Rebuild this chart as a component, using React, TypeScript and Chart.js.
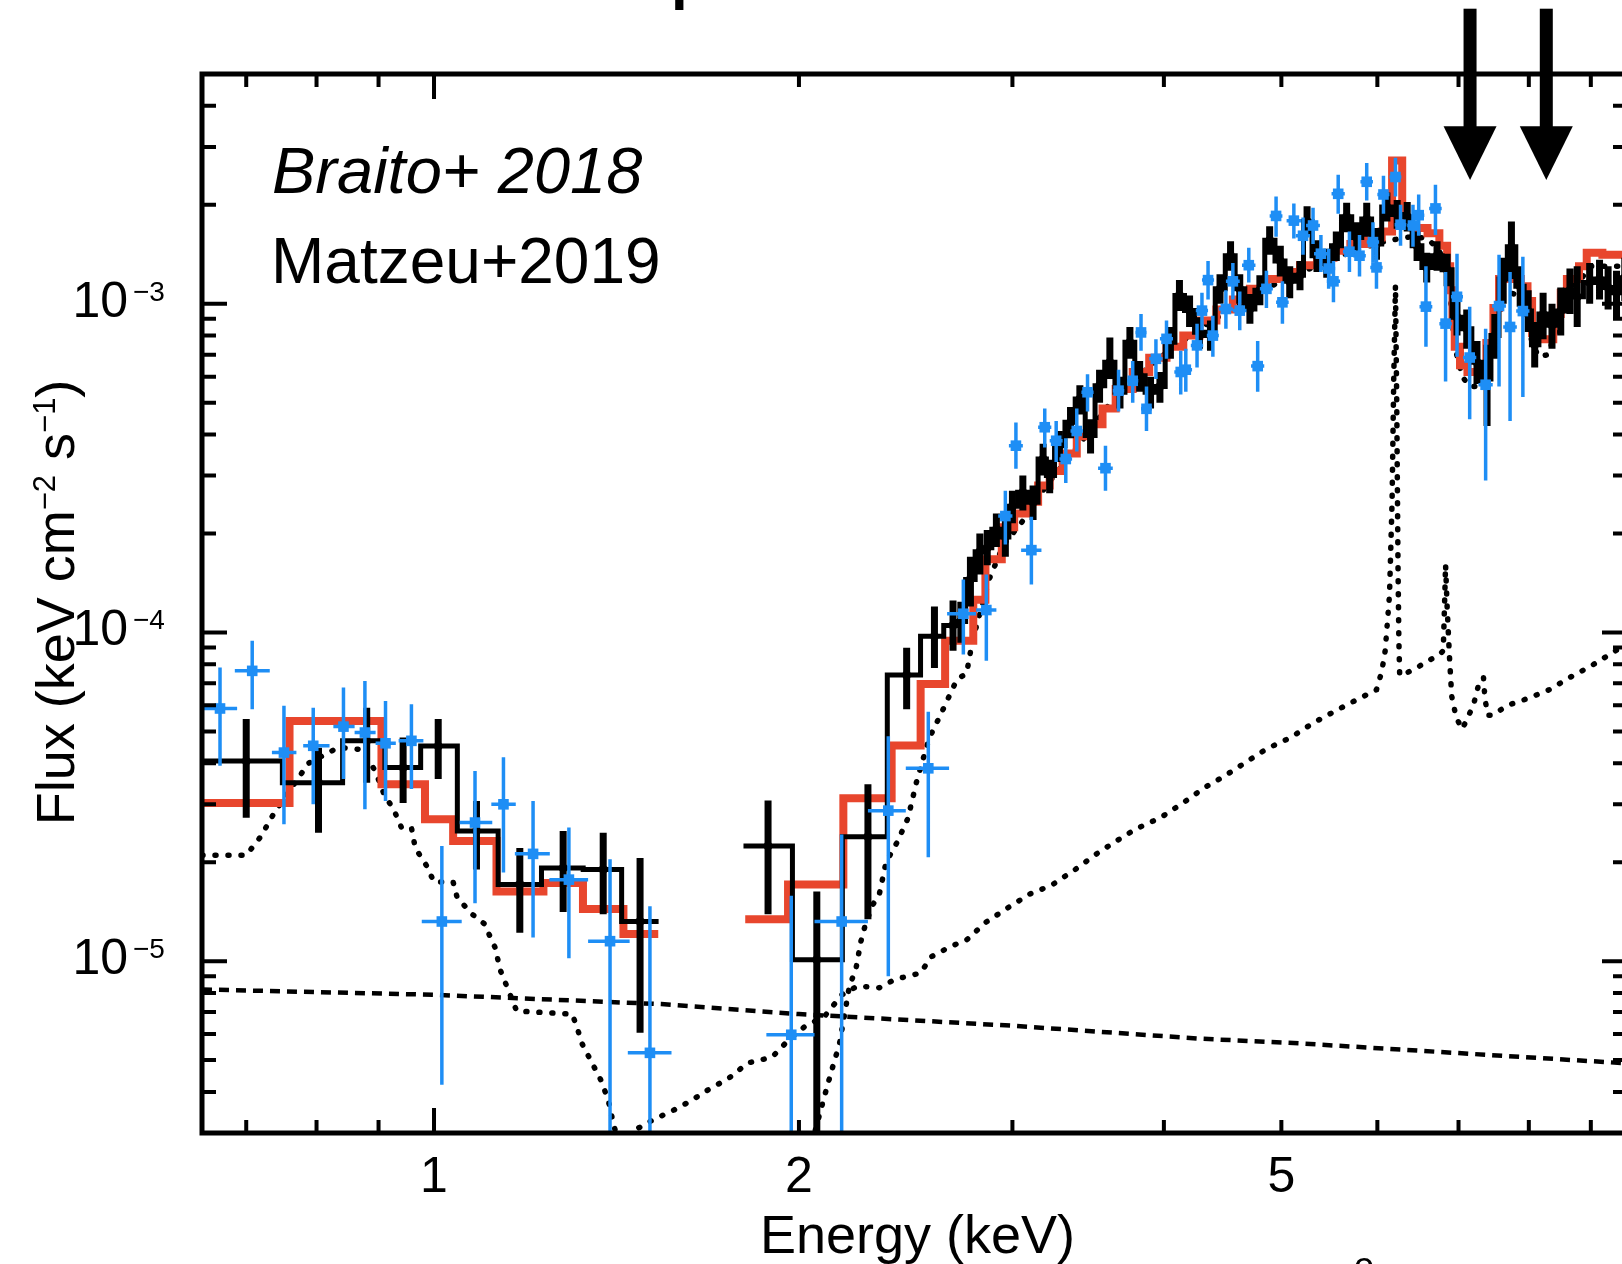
import React, { useEffect, useRef } from "react";
import { Chart, registerables } from "chart.js";

Chart.register(...registerables);

// ---------------- axes ----------------
const xRange = [0.6436, 9.64];
const yRange = [3e-6, 5e-3];
const xMajorTicks = [1];
const xMinorTicks = [0.7, 0.8, 0.9, 2, 3, 4, 5, 6, 7, 8, 9];
const xTickLabels = [1, 2, 5];
const yMajorTicks = [1e-5, 1e-4, 1e-3];
const yMinorTicks = [
  4e-6, 5e-6, 6e-6, 7e-6, 8e-6, 9e-6,
  2e-5, 3e-5, 4e-5, 5e-5, 6e-5, 7e-5, 8e-5, 9e-5,
  2e-4, 3e-4, 4e-4, 5e-4, 6e-4, 7e-4, 8e-4, 9e-4,
  2e-3, 3e-3, 4e-3,
];
const yTickValues = [1e-5, 1e-4, 1e-3];
const yTickSup = ["\u22125", "\u22124", "\u22123"];

const xTitle = "Energy (keV)";
const yTitleParts: [string, boolean][] = [
  ["Flux (keV cm", false],
  ["\u22122", true],
  [" s", false],
  ["\u22121", true],
  [")", false],
];
const noteItalic = "Braito+ 2018";
const noteRegular = "Matzeu+2019";

// arrows marking absorption features (energy in keV, flux levels)
const arrowEnergies = [7.155, 8.27];
const arrowTopFlux = 7.9e-3;
const arrowHeadFlux = 3.47e-3;
const arrowTipFlux = 2.38e-3;

// ---------------- black data: [E, flux, fluxLow, fluxHigh] ----------------
const blackEdges = [
  [0.6436, 1.532],
  [1.8, 9.7],
];
const blackLow = [
  [0.7, 4.06e-5, 2.73e-5, 5.45e-5],
  [0.803, 3.49e-5, 2.46e-5, 4.46e-5],
  [0.88, 4.68e-5, 3.49e-5, 5.9e-5],
  [0.943, 3.88e-5, 3.03e-5, 4.79e-5],
  [1.008, 4.51e-5, 3.58e-5, 5.45e-5],
  [1.084, 2.49e-5, 1.9e-5, 3.07e-5],
  [1.177, 1.71e-5, 1.22e-5, 2.21e-5],
  [1.278, 1.92e-5, 1.41e-5, 2.49e-5],
  [1.379, 1.9e-5, 1.39e-5, 2.46e-5],
  [1.479, 1.32e-5, 6.05e-6, 2.06e-5],
];
const blackHigh = [
  [1.886, 2.24e-5, 1.39e-5, 3.08e-5],
  [2.069, 1.01e-5, 2.5e-6, 1.63e-5],
  [2.28, 2.39e-5, 1.34e-5, 3.45e-5],
  [2.454, 7.42e-5, 5.84e-5, 8.99e-5],
  [2.587, 9.74e-5, 7.8e-5, 1.2e-4],
  [2.68, 1.05e-4, 8.8e-5, 1.25e-4],
  [2.72, 1.08e-4, 9.3e-5, 1.24e-4],
  [2.77, 1.45e-4, 1.2e-4, 1.7e-4],
  [2.82, 1.76e-4, 1.5e-4, 2.0e-4],
  [2.86, 1.81e-4, 1.6e-4, 2.05e-4],
  [2.91, 2.06e-4, 1.82e-4, 2.3e-4],
  [2.96, 1.95e-4, 1.7e-4, 2.2e-4],
  [3.0, 2.42e-4, 2.15e-4, 2.7e-4],
  [3.06, 2.67e-4, 2.35e-4, 3.0e-4],
  [3.12, 2.49e-4, 2.2e-4, 2.8e-4],
  [3.18, 3.37e-4, 3.0e-4, 3.75e-4],
  [3.22, 3.0e-4, 2.65e-4, 3.35e-4],
  [3.28, 3.7e-4, 3.3e-4, 4.1e-4],
  [3.35, 4.36e-4, 3.9e-4, 4.85e-4],
  [3.41, 5.13e-4, 4.6e-4, 5.65e-4],
  [3.48, 3.97e-4, 3.5e-4, 4.45e-4],
  [3.54, 5.63e-4, 5.0e-4, 6.3e-4],
  [3.61, 6.64e-4, 5.9e-4, 7.9e-4],
  [3.68, 5.38e-4, 4.8e-4, 6.0e-4],
  [3.75, 7.64e-4, 6.8e-4, 8.5e-4],
  [3.82, 6.04e-4, 5.4e-4, 6.7e-4],
  [3.9, 5.38e-4, 4.8e-4, 6.0e-4],
  [3.97, 5.6e-4, 5.0e-4, 6.2e-4],
  [4.05, 7.64e-4, 6.8e-4, 8.5e-4],
  [4.12, 1.06e-3, 9.5e-4, 1.18e-3],
  [4.2, 9.53e-4, 8.5e-4, 1.06e-3],
  [4.28, 8.19e-4, 7.3e-4, 9.1e-4],
  [4.37, 8.0e-4, 7.2e-4, 8.9e-4],
  [4.45, 1.11e-3, 1.0e-3, 1.23e-3],
  [4.54, 1.4e-3, 1.26e-3, 1.55e-3],
  [4.62, 1.11e-3, 1.0e-3, 1.23e-3],
  [4.71, 9.64e-4, 8.7e-4, 1.07e-3],
  [4.8, 1.1e-3, 9.9e-4, 1.22e-3],
  [4.89, 1.56e-3, 1.41e-3, 1.72e-3],
  [4.99, 1.35e-3, 1.21e-3, 1.5e-3],
  [5.08, 1.17e-3, 1.04e-3, 1.3e-3],
  [5.18, 1.22e-3, 1.1e-3, 1.35e-3],
  [5.25, 1.78e-3, 1.6e-3, 1.98e-3],
  [5.35, 1.4e-3, 1.25e-3, 1.56e-3],
  [5.45, 1.33e-3, 1.2e-3, 1.47e-3],
  [5.55, 1.5e-3, 1.35e-3, 1.66e-3],
  [5.66, 1.84e-3, 1.65e-3, 2.03e-3],
  [5.77, 1.59e-3, 1.42e-3, 1.77e-3],
  [5.88, 1.81e-3, 1.6e-3, 2.03e-3],
  [5.99, 1.52e-3, 1.36e-3, 1.7e-3],
  [6.11, 1.97e-3, 1.78e-3, 2.18e-3],
  [6.23, 1.87e-3, 1.69e-3, 2.07e-3],
  [6.35, 1.84e-3, 1.66e-3, 2.04e-3],
  [6.47, 1.5e-3, 1.35e-3, 1.66e-3],
  [6.59, 1.29e-3, 1.16e-3, 1.43e-3],
  [6.72, 1.4e-3, 1.26e-3, 1.55e-3],
  [6.85, 1.27e-3, 1.13e-3, 1.42e-3],
  [6.98, 9.1e-4, 8.0e-4, 1.03e-3],
  [7.11, 8.4e-4, 7.3e-4, 9.6e-4],
  [7.25, 6.64e-4, 5.7e-4, 7.7e-4],
  [7.39, 5.9e-4, 4.25e-4, 7.5e-4],
  [7.5, 8.0e-4, 6.8e-4, 9.3e-4],
  [7.62, 1.19e-3, 1.0e-3, 1.38e-3],
  [7.74, 1.49e-3, 1.19e-3, 1.78e-3],
  [7.87, 1.13e-3, 9.8e-4, 1.3e-3],
  [7.99, 9.5e-4, 8.2e-4, 1.1e-3],
  [8.09, 7.5e-4, 6.4e-4, 8.8e-4],
  [8.22, 9.3e-4, 7.8e-4, 1.08e-3],
  [8.36, 8.6e-4, 7.3e-4, 1.0e-3],
  [8.5, 9.5e-4, 8.0e-4, 1.12e-3],
  [8.65, 1.1e-3, 9.3e-4, 1.28e-3],
  [8.77, 1.05e-3, 8.5e-4, 1.3e-3],
  [8.98, 1.16e-3, 1.0e-3, 1.33e-3],
  [9.15, 1.19e-3, 1.03e-3, 1.36e-3],
  [9.3, 1.12e-3, 9.6e-4, 1.3e-3],
  [9.45, 1.08e-3, 9.0e-4, 1.26e-3],
  [9.6, 1.2e-3, 1.02e-3, 1.38e-3],
];

// ---------------- blue data: [E, flux, fluxLow, fluxHigh, Elow, Ehigh] ----------------
const blueData = [
  [0.666, 5.87e-5, 3.93e-5, 7.82e-5, 0.6436, 0.688],
  [0.708, 7.64e-5, 5.84e-5, 9.43e-5, 0.685, 0.732],
  [0.752, 4.31e-5, 2.61e-5, 5.98e-5, 0.735, 0.77],
  [0.795, 4.52e-5, 3.0e-5, 5.9e-5, 0.78, 0.82],
  [0.842, 5.17e-5, 3.58e-5, 6.8e-5, 0.826, 0.86],
  [0.877, 4.96e-5, 2.9e-5, 7.12e-5, 0.86, 0.895],
  [0.912, 4.6e-5, 3.07e-5, 6.19e-5, 0.895, 0.93],
  [0.958, 4.68e-5, 3.34e-5, 6.05e-5, 0.935, 0.98],
  [1.015, 1.32e-5, 4.21e-6, 2.24e-5, 0.977, 1.054],
  [1.081, 2.64e-5, 1.5e-5, 3.79e-5, 1.05, 1.117],
  [1.141, 3.0e-5, 1.86e-5, 4.17e-5, 1.115, 1.168],
  [1.207, 2.12e-5, 1.18e-5, 3.07e-5, 1.166, 1.246],
  [1.292, 1.77e-5, 1.02e-5, 2.55e-5, 1.245, 1.34],
  [1.397, 1.15e-5, 2.5e-6, 2.04e-5, 1.34, 1.45],
  [1.507, 5.26e-6, 2.5e-6, 1.47e-5, 1.445, 1.57],
  [1.971, 5.97e-6, 2.5e-6, 1.58e-5, 1.88, 2.06],
  [2.169, 1.32e-5, 2.5e-6, 2.43e-5, 2.06, 2.28],
  [2.37, 2.87e-5, 9.0e-6, 4.83e-5, 2.28, 2.45],
  [2.557, 3.86e-5, 2.07e-5, 5.74e-5, 2.45, 2.66],
  [2.733, 1.14e-4, 8.57e-5, 1.45e-4, 2.65, 2.8],
  [2.855, 1.17e-4, 8.2e-5, 1.5e-4, 2.8, 2.91],
  [2.96, 2.26e-4, 1.85e-4, 2.7e-4, 2.92, 3.0],
  [3.02, 3.7e-4, 3.15e-4, 4.35e-4, 2.98, 3.06],
  [3.11, 1.78e-4, 1.4e-4, 2.25e-4, 3.05, 3.17],
  [3.19, 4.21e-4, 3.65e-4, 4.8e-4, 3.15, 3.23],
  [3.26, 3.83e-4, 3.3e-4, 4.4e-4, 3.22, 3.3],
  [3.32, 3.37e-4, 2.85e-4, 3.9e-4, 3.28, 3.36],
  [3.39, 4.1e-4, 3.55e-4, 4.8e-4, 3.35, 3.43],
  [3.46, 5.38e-4, 4.7e-4, 6.1e-4, 3.42, 3.5],
  [3.58, 3.16e-4, 2.7e-4, 3.7e-4, 3.53, 3.63],
  [3.67, 5.44e-4, 4.7e-4, 6.3e-4, 3.63, 3.71],
  [3.77, 5.83e-4, 5.0e-4, 6.7e-4, 3.73, 3.81],
  [3.83, 8.18e-4, 7.2e-4, 9.3e-4, 3.79, 3.87],
  [3.87, 4.79e-4, 4.1e-4, 5.6e-4, 3.83, 3.91],
  [3.94, 6.8e-4, 5.9e-4, 7.8e-4, 3.89, 3.99],
  [4.02, 7.82e-4, 6.8e-4, 8.9e-4, 3.97, 4.07],
  [4.13, 6.2e-4, 5.3e-4, 7.2e-4, 4.08, 4.18],
  [4.17, 6.3e-4, 5.4e-4, 7.3e-4, 4.12, 4.22],
  [4.26, 7.47e-4, 6.4e-4, 8.7e-4, 4.21, 4.31],
  [4.3, 9.53e-4, 8.3e-4, 1.08e-3, 4.25, 4.35],
  [4.35, 1.18e-3, 1.03e-3, 1.35e-3, 4.3, 4.4],
  [4.39, 8.0e-4, 6.9e-4, 9.2e-4, 4.34, 4.44],
  [4.5, 9.64e-4, 8.4e-4, 1.1e-3, 4.44, 4.56],
  [4.56, 1.17e-3, 1.03e-3, 1.33e-3, 4.5, 4.62],
  [4.62, 9.53e-4, 8.3e-4, 1.09e-3, 4.56, 4.68],
  [4.7, 1.31e-3, 1.16e-3, 1.48e-3, 4.64, 4.76],
  [4.78, 6.46e-4, 5.4e-4, 7.7e-4, 4.72, 4.84],
  [4.86, 1.11e-3, 9.7e-4, 1.26e-3, 4.8, 4.92],
  [4.95, 1.85e-3, 1.6e-3, 2.12e-3, 4.89, 5.01],
  [5.01, 1.01e-3, 8.7e-4, 1.17e-3, 4.95, 5.07],
  [5.12, 1.79e-3, 1.58e-3, 2.02e-3, 5.05, 5.19],
  [5.21, 1.61e-3, 1.41e-3, 1.83e-3, 5.14, 5.28],
  [5.31, 1.73e-3, 1.52e-3, 1.96e-3, 5.24, 5.38],
  [5.39, 1.42e-3, 1.25e-3, 1.62e-3, 5.32, 5.46],
  [5.47, 1.28e-3, 1.11e-3, 1.47e-3, 5.4, 5.54],
  [5.52, 1.17e-3, 1.01e-3, 1.35e-3, 5.45, 5.59],
  [5.57, 2.16e-3, 1.88e-3, 2.47e-3, 5.5, 5.64],
  [5.69, 1.44e-3, 1.25e-3, 1.66e-3, 5.62, 5.76],
  [5.8, 1.4e-3, 1.21e-3, 1.62e-3, 5.73, 5.87],
  [5.88, 2.35e-3, 2.06e-3, 2.68e-3, 5.81, 5.95],
  [5.95, 1.54e-3, 1.34e-3, 1.77e-3, 5.88, 6.02],
  [5.99, 1.29e-3, 1.11e-3, 1.5e-3, 5.92, 6.06],
  [6.07, 2.15e-3, 1.88e-3, 2.45e-3, 6.0, 6.14],
  [6.21, 2.43e-3, 2.12e-3, 2.78e-3, 6.14, 6.28],
  [6.27, 1.74e-3, 1.5e-3, 2.0e-3, 6.2, 6.34],
  [6.42, 1.73e-3, 1.49e-3, 2.0e-3, 6.35, 6.49],
  [6.49, 1.86e-3, 1.61e-3, 2.15e-3, 6.42, 6.56],
  [6.58, 9.8e-4, 7.4e-4, 1.3e-3, 6.5, 6.66],
  [6.7, 1.95e-3, 1.62e-3, 2.3e-3, 6.62, 6.78],
  [6.83, 8.7e-4, 5.8e-4, 1.25e-3, 6.75, 6.91],
  [6.98, 1.05e-3, 6.9e-4, 1.42e-3, 6.9, 7.06],
  [7.15, 6.86e-4, 4.45e-4, 9.8e-4, 7.06, 7.24],
  [7.37, 5.67e-4, 2.9e-4, 8.4e-4, 7.27, 7.47],
  [7.56, 9.84e-4, 5.6e-4, 1.41e-3, 7.46, 7.66],
  [7.72, 8.5e-4, 4.4e-4, 1.25e-3, 7.62, 7.82],
  [7.91, 9.5e-4, 5.2e-4, 1.39e-3, 7.81, 8.01],
];

// ---------------- total model (red step): [binStartE, flux] ----------------
const modelLow = [
  [0.6436, 3.03e-5], [0.76, 5.38e-5], [0.905, 3.45e-5], [0.983, 2.7e-5],
  [1.037, 2.32e-5], [1.126, 1.63e-5], [1.231, 1.73e-5], [1.327, 1.44e-5],
  [1.433, 1.21e-5], [1.531, 1.21e-5],
];
const modelHigh = [
  [1.806, 1.34e-5], [1.959, 1.71e-5], [2.176, 3.13e-5], [2.385, 4.53e-5],
  [2.52, 6.97e-5], [2.64, 9.43e-5], [2.785, 1.257e-4], [2.85, 1.67e-4],
  [2.94, 2.09e-4], [3.01, 2.3e-4], [3.08, 2.5e-4], [3.15, 2.8e-4],
  [3.22, 3.1e-4], [3.3, 3.5e-4], [3.39, 3.95e-4], [3.47, 4.3e-4],
  [3.56, 4.8e-4], [3.65, 5.5e-4], [3.77, 6.2e-4], [3.89, 6.85e-4],
  [4.02, 7.4e-4], [4.15, 8.0e-4], [4.28, 8.9e-4], [4.42, 9.6e-4],
  [4.56, 1.03e-3], [4.71, 1.11e-3], [4.86, 1.19e-3], [5.02, 1.25e-3],
  [5.18, 1.31e-3], [5.35, 1.38e-3], [5.52, 1.45e-3], [5.7, 1.52e-3],
  [5.88, 1.59e-3], [6.05, 1.66e-3], [6.17, 2.73e-3], [6.29, 1.73e-3],
  [6.43, 1.7e-3], [6.6, 1.64e-3], [6.75, 1.5e-3], [6.85, 1.3e-3],
  [6.89, 1.1e-3], [6.92, 9.0e-4], [6.95, 7.4e-4], [7.02, 6.5e-4],
  [7.12, 6.2e-4], [7.38, 7.6e-4], [7.48, 9.7e-4], [7.56, 1.19e-3],
  [7.88, 1.13e-3], [7.98, 1.02e-3], [8.05, 8.15e-4], [8.14, 7.8e-4],
  [8.38, 9.3e-4], [8.5, 1.08e-3], [8.6, 1.19e-3], [8.8, 1.3e-3],
  [8.93, 1.43e-3], [9.2, 1.41e-3], [9.7, 1.39e-3],
];

// ---------------- model components (black dotted / dashed) ----------------
const softHump = [
  [0.6436, 2.1e-5], [0.7, 2.1e-5], [0.72, 2.4e-5], [0.735, 2.75e-5], [0.751, 3.1e-5],
  [0.788, 4.0e-5], [0.834, 4.47e-5], [0.872, 4.4e-5], [0.894, 3.8e-5], [0.91, 3.2e-5],
  [0.926, 2.9e-5], [0.94, 2.55e-5], [0.958, 2.55e-5], [0.965, 2.21e-5], [0.986, 1.95e-5],
  [1.0, 1.74e-5], [1.037, 1.74e-5], [1.045, 1.56e-5], [1.075, 1.39e-5], [1.1, 1.3e-5],
  [1.123, 1.1e-5], [1.134, 9.4e-6], [1.151, 8.2e-6], [1.17, 7.05e-6], [1.3, 6.9e-6],
  [1.31, 6.4e-6], [1.325, 5.6e-6], [1.35, 4.9e-6], [1.375, 4.3e-6], [1.393, 3.74e-6],
  [1.406, 3.2e-6], [1.42, 2.8e-6],
];
const scatteredPL = [
  [0.6436, 8.2e-6], [1.0, 7.9e-6], [1.54, 7.4e-6], [2.0, 6.9e-6], [3.0, 6.36e-6],
  [4.28, 5.81e-6], [5.18, 5.62e-6], [7.0, 5.25e-6], [9.7, 4.88e-6],
];
const absorbedPL = [
  [2.05, 2.8e-6], [2.1, 3.9e-6], [2.13, 4.7e-6], [2.16, 5.6e-6], [2.2, 8.3e-6],
  [2.23, 9.6e-6], [2.25, 1.15e-5], [2.27, 1.3e-5], [2.3, 1.48e-5], [2.33, 1.6e-5],
  [2.36, 2.0e-5], [2.41, 2.3e-5], [2.46, 2.72e-5], [2.5, 3.5e-5], [2.56, 4.75e-5],
  [2.61, 5.5e-5], [2.65, 6.2e-5], [2.7, 7.2e-5], [2.75, 7.5e-5], [2.78, 9.4e-5],
  [2.87, 1.45e-4], [2.95, 1.85e-4], [3.05, 2.15e-4], [3.2, 2.8e-4], [3.4, 3.7e-4],
  [3.6, 4.9e-4], [3.8, 6.0e-4], [4.0, 7.0e-4], [4.3, 8.5e-4], [4.6, 9.9e-4],
  [4.9, 1.13e-3], [5.2, 1.25e-3], [5.5, 1.36e-3], [5.8, 1.47e-3], [6.1, 1.55e-3],
  [6.4, 1.6e-3], [6.6, 1.58e-3], [6.75, 1.45e-3], [6.85, 1.25e-3], [6.9, 1.0e-3],
  [6.95, 7.4e-4], [7.05, 6.0e-4], [7.15, 5.6e-4], [7.3, 5.6e-4], [7.4, 6.8e-4],
  [7.5, 9.0e-4], [7.6, 1.1e-3], [7.85, 1.06e-3], [7.95, 9.5e-4], [8.05, 7.6e-4],
  [8.15, 6.9e-4], [8.3, 7.0e-4], [8.45, 8.6e-4], [8.6, 1.1e-3], [8.85, 1.2e-3],
  [9.0, 1.3e-3], [9.7, 1.3e-3],
];
const reflection = [
  [1.455, 2.9e-6], [1.466, 3.07e-6], [1.518, 3.3e-6], [1.572, 3.5e-6], [1.627, 3.75e-6],
  [1.685, 4.07e-6], [1.75, 4.4e-6], [1.815, 4.9e-6], [1.9, 5.1e-6], [1.965, 5.8e-6],
  [2.02, 6.3e-6], [2.1, 6.8e-6], [2.17, 7.9e-6], [2.236, 8.4e-6], [2.33, 8.3e-6],
  [2.4, 8.8e-6], [2.52, 9.2e-6], [2.57, 1.03e-5], [2.67, 1.11e-5], [2.75, 1.16e-5],
  [2.85, 1.31e-5], [2.98, 1.46e-5], [3.1, 1.6e-5], [3.23, 1.7e-5], [3.38, 1.9e-5],
  [3.52, 2.12e-5], [3.64, 2.3e-5], [3.79, 2.52e-5], [3.98, 2.74e-5], [4.17, 3.07e-5],
  [4.32, 3.37e-5], [4.49, 3.66e-5], [4.67, 4.02e-5], [4.86, 4.42e-5], [5.09, 4.79e-5],
  [5.31, 5.3e-5], [5.52, 5.73e-5], [5.75, 6.2e-5], [5.99, 6.69e-5], [6.05, 7.6e-5],
  [6.09, 8.8e-5], [6.14, 1.3e-4], [6.17, 2.5e-4], [6.19, 6.0e-4], [6.21, 1.14e-3],
  [6.225, 5.0e-4], [6.24, 1.6e-4], [6.25, 9.5e-5], [6.26, 7.4e-5], [6.29, 7.4e-5],
  [6.5, 7.9e-5], [6.76, 8.6e-5], [6.8, 8.8e-5], [6.82, 1.3e-4], [6.83, 1.61e-4],
  [6.85, 1.2e-4], [6.88, 8.5e-5], [6.91, 6.4e-5], [6.97, 5.5e-5], [7.05, 5.08e-5],
  [7.2, 6.0e-5], [7.27, 6.9e-5], [7.34, 7.3e-5], [7.36, 6.3e-5], [7.4, 5.6e-5],
  [7.47, 5.6e-5], [7.68, 6.0e-5], [7.99, 6.3e-5], [8.32, 6.7e-5], [8.65, 7.3e-5],
  [9.0, 7.9e-5], [9.39, 8.7e-5], [9.7, 9.4e-5],
];

// ---------------- styling ----------------
const FONT = '"Liberation Sans", Arial, Helvetica, sans-serif';
const RED = "#E8462D";
const BLUE = "#1E8EF5";

const toXY = (arr: number[][]) => arr.map((p) => ({ x: p[0], y: p[1] }));
const stepLine = (pts: number[][], edges: number[]) => [
  { x: edges[0], y: pts[0][1] },
  ...pts.map((p) => ({ x: p[0], y: p[1] })),
  { x: edges[1], y: pts[pts.length - 1][1] },
];

const errorBarPlugin = {
  id: "errorBars",
  beforeDatasetDraw(chart: any, args: any) {
    const ds: any = chart.data.datasets[args.index];
    if (!ds.errorBars) return;
    const { ctx, chartArea: a, scales } = chart;
    const xs = scales.x;
    const ys = scales.y;
    ctx.save();
    ctx.beginPath();
    ctx.rect(a.left, a.top, a.right - a.left, a.bottom - a.top);
    ctx.clip();
    ctx.strokeStyle = ds.errorBars.color;
    ctx.lineWidth = ds.errorBars.width;
    ctx.lineCap = "butt";
    ctx.beginPath();
    for (const p of ds.data) {
      const px = xs.getPixelForValue(p.x);
      ctx.moveTo(px, ys.getPixelForValue(p.yMin));
      ctx.lineTo(px, ys.getPixelForValue(p.yMax));
      if (p.xMin != null) {
        const py = ys.getPixelForValue(p.y);
        ctx.moveTo(xs.getPixelForValue(p.xMin), py);
        ctx.lineTo(xs.getPixelForValue(p.xMax), py);
      }
    }
    ctx.stroke();
    ctx.restore();
  },
};

const decorPlugin = {
  id: "decor",
  afterDatasetsDraw(chart: any) {
    const { ctx, chartArea: a, scales } = chart;
    const xs = scales.x;
    const ys = scales.y;
    ctx.save();
    ctx.strokeStyle = "#000";
    ctx.fillStyle = "#000";

    // ticks (inward, all four sides)
    ctx.lineWidth = 4;
    ctx.lineCap = "butt";
    ctx.beginPath();
    const xt = (v: number, len: number) => {
      const px = xs.getPixelForValue(v);
      ctx.moveTo(px, a.bottom);
      ctx.lineTo(px, a.bottom - len);
      ctx.moveTo(px, a.top);
      ctx.lineTo(px, a.top + len);
    };
    const yt = (v: number, len: number) => {
      const py = ys.getPixelForValue(v);
      ctx.moveTo(a.left, py);
      ctx.lineTo(a.left + len, py);
      ctx.moveTo(a.right, py);
      ctx.lineTo(a.right - len, py);
    };
    xMajorTicks.forEach((v) => xt(v, 25));
    xMinorTicks.forEach((v) => xt(v, 13));
    yMajorTicks.forEach((v) => yt(v, 25));
    yMinorTicks.forEach((v) => yt(v, 14));
    ctx.stroke();

    // frame
    ctx.lineWidth = 5;
    ctx.lineJoin = "miter";
    ctx.strokeRect(a.left, a.top, a.right - a.left, a.bottom - a.top);

    // x tick labels
    ctx.font = `50px ${FONT}`;
    ctx.textAlign = "center";
    ctx.textBaseline = "alphabetic";
    xTickLabels.forEach((v) => ctx.fillText(String(v), xs.getPixelForValue(v), a.bottom + 59));

    // y tick labels
    yTickValues.forEach((v, i) => {
      const py = ys.getPixelForValue(v);
      ctx.font = `50px ${FONT}`;
      ctx.textAlign = "right";
      ctx.fillText("10", a.left - 74, py + 13);
      ctx.font = `28px ${FONT}`;
      ctx.textAlign = "left";
      ctx.fillText(yTickSup[i], a.left - 69, py - 3);
    });

    // x title
    ctx.font = `54px ${FONT}`;
    ctx.textAlign = "center";
    ctx.fillText(xTitle, (a.left + a.right) / 2 + 3, a.bottom + 120);

    // y title (rotated, with superscripts)
    ctx.save();
    ctx.translate(74, (a.top + a.bottom) / 2 - 1);
    ctx.rotate(-Math.PI / 2);
    ctx.textAlign = "left";
    const normalFont = `54px ${FONT}`;
    const supFont = `31px ${FONT}`;
    let total = 0;
    yTitleParts.forEach(([t, sup]) => {
      ctx.font = sup ? supFont : normalFont;
      total += ctx.measureText(t).width;
    });
    let cx = -total / 2;
    yTitleParts.forEach(([t, sup]) => {
      ctx.font = sup ? supFont : normalFont;
      ctx.fillText(t, cx, sup ? -19 : 0);
      cx += ctx.measureText(t).width;
    });
    ctx.restore();

    // annotations
    ctx.textAlign = "left";
    ctx.font = `italic 65px ${FONT}`;
    ctx.fillText(noteItalic, a.left + 70, a.top + 119);
    ctx.font = `64px ${FONT}`;
    ctx.fillText(noteRegular, a.left + 69, a.top + 209);

    // arrows
    const yTop = ys.getPixelForValue(arrowTopFlux);
    const yHead = ys.getPixelForValue(arrowHeadFlux);
    const yTip = ys.getPixelForValue(arrowTipFlux);
    arrowEnergies.forEach((e) => {
      const px = xs.getPixelForValue(e);
      ctx.fillRect(px - 6.5, yTop, 13, yHead - yTop + 1);
      ctx.beginPath();
      ctx.moveTo(px - 26.5, yHead);
      ctx.lineTo(px + 26.5, yHead);
      ctx.lineTo(px, yTip);
      ctx.closePath();
      ctx.fill();
    });

    // cropped fragments of neighbouring text in the source figure
    ctx.font = `bold 60px ${FONT}`;
    ctx.fillText("p", 671, -2);
    ctx.font = `36px ${FONT}`;
    ctx.fillText("o", 1354, 1278);

    ctx.restore();
  },
};

export default function App() {
  const ref = useRef<HTMLCanvasElement>(null);

  useEffect(() => {
    const canvas = ref.current;
    if (!canvas) return;

    const blackPoints = [...blackLow, ...blackHigh].map((p) => ({
      x: p[0], y: p[1], yMin: p[2], yMax: p[3],
    }));
    const blackStep = [
      ...stepLine(blackLow, blackEdges[0]),
      { x: 1.65, y: null },
      ...stepLine(blackHigh, blackEdges[1]),
    ];
    const modelStep = [...toXY(modelLow), { x: 1.65, y: null }, ...toXY(modelHigh)];
    const bluePoints = blueData.map((p) => ({
      x: p[0], y: p[1], yMin: p[2], yMax: p[3], xMin: p[4], xMax: p[5],
    }));

    const dotted = {
      borderColor: "#000",
      borderWidth: 5.5,
      borderDash: [1, 12],
      borderCapStyle: "round",
      pointRadius: 0,
      fill: false,
      tension: 0,
    };

    const chart = new Chart(canvas, {
      type: "line",
      data: {
        datasets: [
          {
            label: "blue",
            data: bluePoints,
            showLine: false,
            pointStyle: "rect",
            pointRadius: 7.5,
            pointBorderWidth: 0,
            pointBackgroundColor: BLUE,
            pointBorderColor: BLUE,
            errorBars: { color: BLUE, width: 3.5 },
            order: 0,
          } as any,
          {
            label: "black points",
            data: blackPoints,
            showLine: false,
            pointStyle: "circle",
            pointRadius: 4.5,
            pointBorderWidth: 0,
            pointBackgroundColor: "#000",
            pointBorderColor: "#000",
            errorBars: { color: "#000", width: 7 },
            order: 1,
          } as any,
          {
            label: "black histogram",
            data: blackStep,
            stepped: "middle",
            borderColor: "#000",
            borderWidth: 5,
            pointRadius: 0,
            spanGaps: false,
            order: 2,
          } as any,
          {
            label: "model",
            data: modelStep,
            stepped: "before",
            borderColor: RED,
            borderWidth: 8,
            pointRadius: 0,
            spanGaps: false,
            order: 3,
          } as any,
          { label: "soft", data: toXY(softHump), ...dotted, order: 4 } as any,
          {
            label: "scattered",
            data: toXY(scatteredPL),
            borderColor: "#000",
            borderWidth: 4.5,
            borderDash: [10, 7],
            pointRadius: 0,
            order: 5,
          } as any,
          { label: "absorbed", data: toXY(absorbedPL), ...dotted, order: 6 } as any,
          { label: "reflection", data: toXY(reflection), ...dotted, order: 7 } as any,
        ],
      },
      options: {
        animation: false,
        responsive: false,
        devicePixelRatio: 1,
        events: [],
        layout: { padding: { left: 202, top: 74, right: 13, bottom: 131 } },
        plugins: {
          legend: { display: false },
          tooltip: { enabled: false },
          title: { display: false },
        },
        scales: {
          x: { type: "logarithmic", bounds: "data", min: xRange[0], max: xRange[1], display: false },
          y: { type: "logarithmic", bounds: "data", min: yRange[0], max: yRange[1], display: false },
        },
      } as any,
      plugins: [errorBarPlugin, decorPlugin],
    });

    return () => chart.destroy();
  }, []);

  return (
    <div
      style={{
        position: "fixed",
        left: 0,
        top: 0,
        width: 1622,
        height: 1264,
        overflow: "hidden",
        background: "#fff",
      }}
    >
      <canvas ref={ref} width={1640} height={1264} style={{ display: "block", width: 1640, height: 1264 }} />
    </div>
  );
}
